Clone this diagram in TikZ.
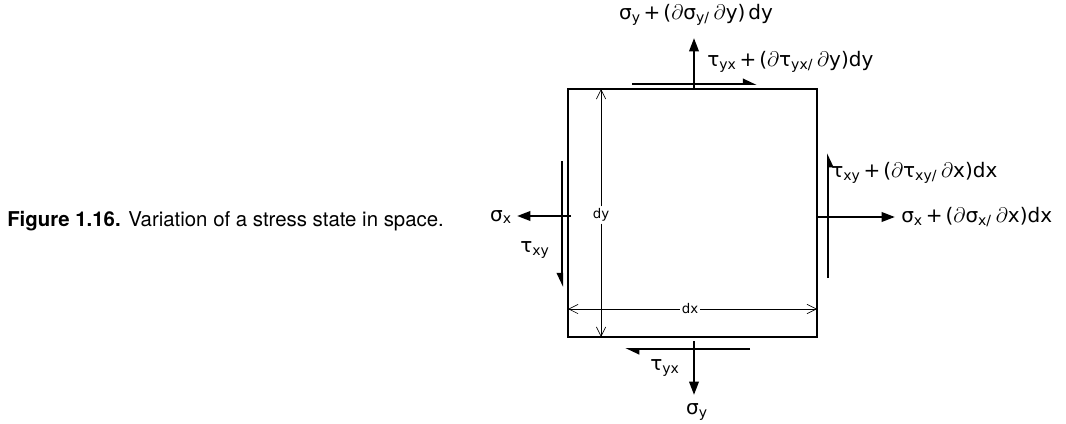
\documentclass[tikz,border=0pt]{standalone}
\usepackage{fontspec}
\setmainfont{TeX Gyre Heros}
\newfontfamily\labfont{DejaVu Sans}
\usetikzlibrary{arrows.meta}
\newcommand\Pd{\scalebox{1.1}{$\partial$}}
\newcommand\Sb[1]{\textsubscript{#1}}
\newcommand\Pl{\hspace{0.15em}+\hspace{0.15em}}
\tikzset{
  elem/.style={draw, line width=1.5pt, inner sep=0pt, minimum width=186.75pt, minimum height=186pt},
  force/.style={line width=1.8pt, -{Triangle[length=10pt,width=7pt]}},
  shearL/.style={line width=1.5pt, -{Triangle[left,length=9pt,width=8pt]}},
  shearR/.style={line width=1.5pt, -{Triangle[right,length=9pt,width=8pt]}},
  dimtip/.style={line width=0.5pt, -{Straight Barb[length=7pt,width=7pt,line width=0.5pt]}},
  dimlabel/.style={fill=white, inner sep=1.5pt, font=\labfont\fontsize{10}{12}\selectfont},
  lab/.style={inner sep=0pt, font=\labfont\fontsize{15}{18}\selectfont},
  captext/.style={inner sep=0pt, font=\fontsize{15.3}{18}\selectfont}
}
\begin{document}
\begin{tikzpicture}[x=0.75pt,y=-0.75pt]
\useasboundingbox (0,0) rectangle (1066,424);
% caption
\node[captext, anchor=base west] (cap) at (7,226) {\textbf{Figure 1.16.} Variation of a stress state in space.};
% element
\node[elem] (el) at (692.5,213) {};
% dimension lines
\coordinate (dyT) at (601,89);
\coordinate (dyB) at (601,337);
\coordinate (dxL) at (568,309);
\coordinate (dxR) at (817,309);
\node[dimlabel] (ldy) at (601,215) {dy};
\node[dimlabel] (ldx) at (690,309) {dx};
\draw[dimtip] (ldy) -- (dyT);
\draw[dimtip] (ldy) -- (dyB);
\draw[dimtip] (ldx) -- (dxL);
\draw[dimtip] (ldx) -- (dxR);
% top
\coordinate (syT0) at (694,89);
\coordinate (syT1) at (694,38);
\draw[force] (syT0) -- (syT1);
\node[lab] (lsyT) at (696,15) {σ\Sb{y}\Pl(\Pd σ\Sb{y/}\hspace{0.2em}\Pd y)\hspace{0.15em}dy};
\coordinate (tT0) at (632,84);
\coordinate (tT1) at (757,84);
\draw[shearL] (tT0) -- (tT1);
\node[lab, anchor=west] (ltT) at (707,62) {τ\Sb{yx}\Pl(\Pd τ\Sb{yx/}\hspace{0.2em}\Pd y)dy};
% bottom
\coordinate (syB0) at (694,341);
\coordinate (syB1) at (694,395);
\draw[force] (syB0) -- (syB1);
\node[lab] (lsyB) at (697,412) {σ\Sb{y}};
\coordinate (tB0) at (750,349);
\coordinate (tB1) at (625,349);
\draw[shearL] (tB0) -- (tB1);
\node[lab] (ltB) at (665,368) {τ\Sb{yx}};
% left
\coordinate (sxL0) at (571,216);
\coordinate (sxL1) at (517,216);
\draw[force] (sxL0) -- (sxL1);
\node[lab] (lsxL) at (501,217) {σ\Sb{x}};
\coordinate (tL0) at (562,161);
\coordinate (tL1) at (562,287);
\draw[shearR] (tL0) -- (tL1);
\node[lab] (ltL) at (535,250) {τ\Sb{xy}};
% right
\coordinate (sxR0) at (817,217);
\coordinate (sxR1) at (895,217);
\draw[force] (sxR0) -- (sxR1);
\node[lab, anchor=west] (lsxR) at (901,217) {σ\Sb{x}\Pl(\Pd σ\Sb{x/}\hspace{0.2em}\Pd x)dx};
\coordinate (tR0) at (828,278);
\coordinate (tR1) at (828,153);
\draw[shearR] (tR0) -- (tR1);
\node[lab, anchor=west] (ltR) at (831,173) {τ\Sb{xy}\Pl(\Pd τ\Sb{xy/}\hspace{0.2em}\Pd x)dx};
\end{tikzpicture}
\end{document}
